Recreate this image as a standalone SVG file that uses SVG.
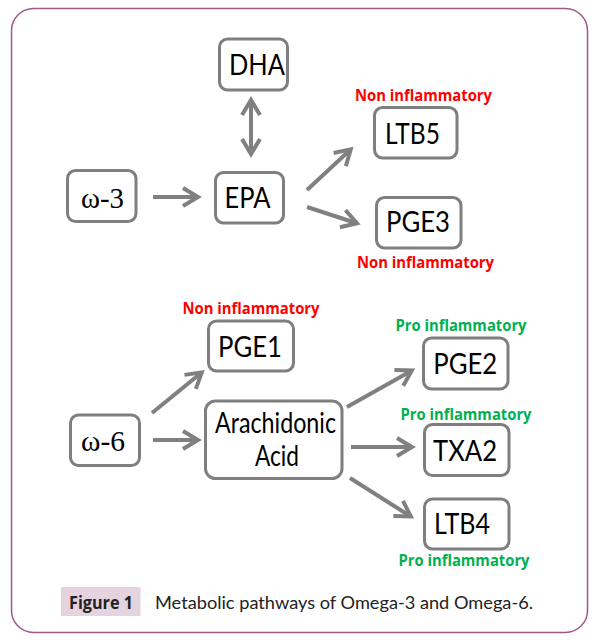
<svg xmlns="http://www.w3.org/2000/svg" width="596" height="640" viewBox="0 0 596 640">
<defs>
<style>
.box{fill:#fff;stroke:#7f7f7f;stroke-width:3}
.lbl{font-family:Lato,"Open Sans",sans-serif;font-size:28px;fill:#000;text-anchor:middle}
.om{font-family:"Liberation Serif",serif;font-size:29px;fill:#000;text-anchor:middle}
.tag{font-family:"Open Sans",Lato,sans-serif;font-weight:bold;font-size:16px;text-anchor:middle}
.red{fill:#ff0000}
.grn{fill:#00b050}
.arr{stroke:#808080;stroke-width:4;fill:none;marker-end:url(#ah)}
</style>
<marker id="ah" viewBox="-20 -12 24 24" refX="-1" refY="0" markerWidth="24" markerHeight="24" markerUnits="userSpaceOnUse" orient="auto-start-reverse">
<path d="M-15,-9 L0,0 L-15,9" fill="none" stroke="#808080" stroke-width="4"/>
</marker>
</defs>
<rect width="596" height="640" fill="#fff"/>
<rect x="11.5" y="8.5" width="576" height="624" rx="22" fill="none" stroke="#a0578a" stroke-width="1.5"/>

<g id="connectors">
<line class="arr" x1="251" y1="101" x2="251" y2="153" marker-start="url(#ah)"/>
<line class="arr" x1="153" y1="197" x2="197" y2="197"/>
<line class="arr" x1="307" y1="190" x2="350" y2="150"/>
<line class="arr" x1="307" y1="207" x2="356" y2="223"/>
<line class="arr" x1="152" y1="413" x2="201" y2="373"/>
<line class="arr" x1="153" y1="440" x2="197" y2="440"/>
<line class="arr" x1="347" y1="407" x2="411" y2="371"/>
<line class="arr" x1="351" y1="447" x2="411" y2="447"/>
<line class="arr" x1="350" y1="478" x2="410" y2="516"/>
</g>

<g id="dha"><rect class="box" x="219.5" y="39" width="68" height="51" rx="8"/><text class="lbl" x="257" y="75" textLength="56" lengthAdjust="spacingAndGlyphs">DHA</text></g>
<g id="omega3"><rect class="box" x="67.5" y="170.5" width="68.5" height="51" rx="8"/><text class="om" x="102.5" y="208" textLength="43" lengthAdjust="spacingAndGlyphs">ω-3</text></g>
<g id="epa"><rect class="box" x="215.5" y="172.5" width="68" height="50.5" rx="8"/><text class="lbl" x="247.6" y="208" textLength="46" lengthAdjust="spacingAndGlyphs">EPA</text></g>
<g id="ltb5"><rect class="box" x="374.5" y="107.5" width="82.5" height="50.5" rx="8"/><text class="lbl" x="412.5" y="144" textLength="55" lengthAdjust="spacingAndGlyphs">LTB5</text>
<text class="tag red" x="423.5" y="101" textLength="137" lengthAdjust="spacingAndGlyphs">Non inflammatory</text></g>
<g id="pge3"><rect class="box" x="376.5" y="197.5" width="84.5" height="50.5" rx="8"/><text class="lbl" x="418" y="232" textLength="64" lengthAdjust="spacingAndGlyphs">PGE3</text>
<text class="tag red" x="425.5" y="268" textLength="137" lengthAdjust="spacingAndGlyphs">Non inflammatory</text></g>

<g id="pge1"><rect class="box" x="208.5" y="321" width="85" height="50" rx="8"/><text class="lbl" x="250" y="357" textLength="64" lengthAdjust="spacingAndGlyphs">PGE1</text>
<text class="tag red" x="251" y="314" textLength="137" lengthAdjust="spacingAndGlyphs">Non inflammatory</text></g>
<g id="omega6"><rect class="box" x="70.5" y="415" width="69" height="50.5" rx="8"/><text class="om" x="103" y="451" textLength="44" lengthAdjust="spacingAndGlyphs">ω-6</text></g>
<g id="aa"><rect class="box" x="205.5" y="401" width="136.5" height="77.5" rx="10"/><text class="lbl" x="275.5" y="433" textLength="121" lengthAdjust="spacingAndGlyphs">Arachidonic</text><text class="lbl" x="277" y="466" textLength="44" lengthAdjust="spacingAndGlyphs">Acid</text></g>
<g id="pge2"><rect class="box" x="423.5" y="338" width="84.5" height="51" rx="8"/><text class="lbl" x="465.3" y="374" textLength="64" lengthAdjust="spacingAndGlyphs">PGE2</text>
<text class="tag grn" x="461" y="331" textLength="131" lengthAdjust="spacingAndGlyphs">Pro inflammatory</text></g>
<g id="txa2"><rect class="box" x="424.5" y="424.5" width="84.5" height="51" rx="8"/><text class="lbl" x="465" y="461" textLength="64" lengthAdjust="spacingAndGlyphs">TXA2</text>
<text class="tag grn" x="466" y="420" textLength="131" lengthAdjust="spacingAndGlyphs">Pro inflammatory</text></g>
<g id="ltb4"><rect class="box" x="424.5" y="499" width="84.5" height="50" rx="8"/><text class="lbl" x="462" y="534" textLength="56" lengthAdjust="spacingAndGlyphs">LTB4</text>
<text class="tag grn" x="464" y="566" textLength="131" lengthAdjust="spacingAndGlyphs">Pro inflammatory</text></g>

<g id="caption">
<rect x="61" y="587" width="79.5" height="29" fill="#e6d3e0"/>
<text x="69" y="609" font-family="'Open Sans',Lato,sans-serif" font-weight="bold" font-size="17" fill="#222" textLength="64" lengthAdjust="spacingAndGlyphs">Figure 1</text>
<text x="155" y="609" font-family="Lato,'Open Sans',sans-serif" font-size="18" fill="#222" textLength="378" lengthAdjust="spacingAndGlyphs">Metabolic pathways of Omega-3 and Omega-6.</text>
</g>
</svg>
